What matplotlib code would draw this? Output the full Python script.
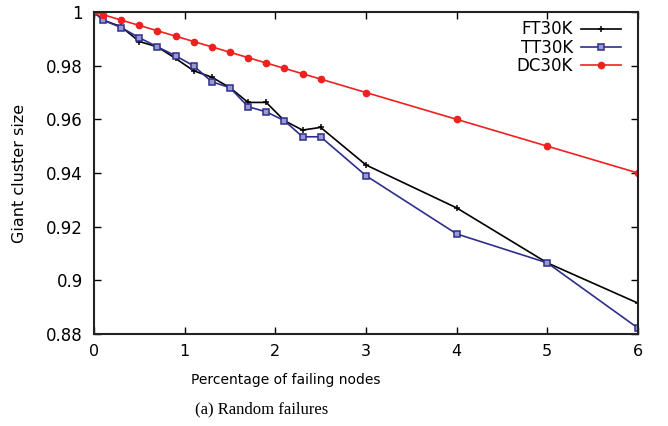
import matplotlib
matplotlib.use("Agg")
import matplotlib.pyplot as plt

x = [0, 0.1, 0.3, 0.5, 0.7, 0.9, 1.1, 1.3, 1.5, 1.7, 1.9, 2.1, 2.3, 2.5, 3, 4, 5, 6]
ft30k = [1.0, 0.997, 0.9945, 0.989, 0.987, 0.9827, 0.9781, 0.9757, 0.9718, 0.9663,
         0.9663, 0.9595, 0.956, 0.957, 0.943, 0.927, 0.9065, 0.8915]
tt30k = [1.0, 0.997, 0.9942, 0.9904, 0.987, 0.9837, 0.9799, 0.974, 0.9718, 0.9647,
         0.9628, 0.9595, 0.9535, 0.9535, 0.939, 0.9173, 0.9065, 0.8822]
dc30k = [1.0, 0.999, 0.997, 0.995, 0.993, 0.991, 0.989, 0.987, 0.985, 0.983,
         0.981, 0.979, 0.977, 0.975, 0.97, 0.96, 0.95, 0.94]
xticks = [0, 1, 2, 3, 4, 5, 6]
yticks = [0.88, 0.9, 0.92, 0.94, 0.96, 0.98, 1.0]
ytick_labels = ["0.88", "0.9", "0.92", "0.94", "0.96", "0.98", "1"]

fig = plt.figure(figsize=(6.68, 4.26), dpi=100)
ax = fig.add_axes([0.1407, 0.216, 0.955 - 0.1407, 0.9718 - 0.216])

ax.plot(x, ft30k, color="black", lw=1.2, marker="+", ms=5, mew=1.1, label="FT30K")
ax.plot(x, tt30k, color="#2e2e8c", lw=1.2, marker="s", ms=4, mew=1.1,
        mfc="#9a9ad0", mec="#2e2e8c", label="TT30K")
ax.plot(x, dc30k, color="#f02020", lw=1.2, marker="o", ms=4.5, mfc="#f02020", mec="#f02020",
        label="DC30K")

ax.set_xlim(0, 6)
ax.set_ylim(0.88, 1.0)
ax.set_xticks(xticks)
ax.set_yticks(yticks)
ax.set_yticklabels(ytick_labels)
ax.tick_params(direction="in", top=True, right=True, length=5, width=1)
ax.tick_params(axis="y", labelsize=12, pad=8)
ax.tick_params(axis="x", labelsize=11.5, pad=7)
for s in ax.spines.values():
    s.set_linewidth(1.5)
    s.set_color("#222222")

ax.set_xlabel("Percentage of failing nodes", fontsize=10)
ax.xaxis.set_label_coords(0.353, -0.12)
ax.set_ylabel("Giant cluster size", fontsize=11.5, labelpad=14)

leg = ax.legend(loc="upper right", frameon=False, markerfirst=False, fontsize=12,
                handlelength=2.4, labelspacing=0.02, borderaxespad=0.3, handletextpad=0.5,
                borderpad=0.2, bbox_to_anchor=(0.985, 1.0))

fig.text(0.392, 0.03, "(a) Random failures", ha="center", va="baseline",
         family="Liberation Serif", fontsize=12)

fig.savefig("out.png", dpi=100)
